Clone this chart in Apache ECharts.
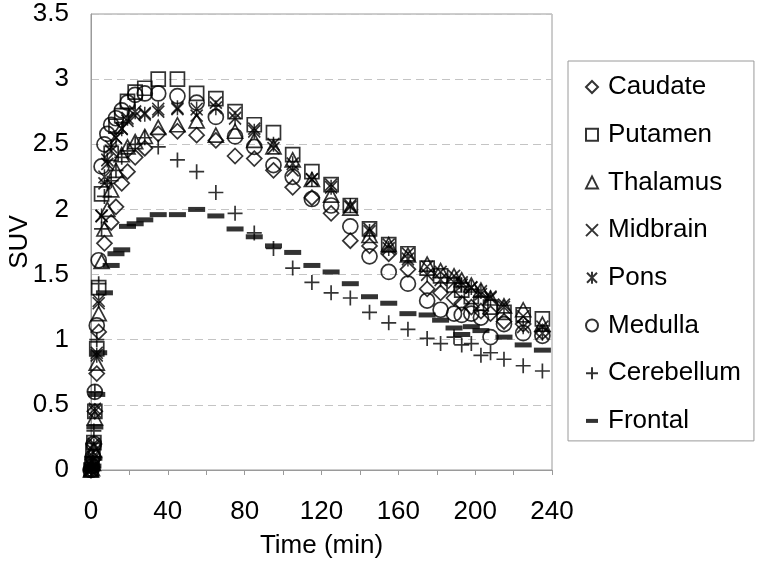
<!DOCTYPE html>
<html>
<head>
<meta charset="utf-8">
<script src="https://cdn.jsdelivr.net/npm/echarts@6/dist/echarts.min.js"></script>
<style>html,body{margin:0;padding:0;background:#fff}#c{width:758px;height:562px}</style>
</head>
<body>
<div id="c"></div>
<script>
var times = [0, 0.5, 1, 1.5, 2, 3, 4, 5.5, 7, 8.5, 10.5, 13, 16, 19, 23, 28, 35, 45, 55, 65, 75, 85, 95, 105, 115, 125, 135, 145, 155, 165, 175, 182, 189, 193, 198, 203, 208, 215, 225, 235];
var caudate = [0, 0.02, 0.08, 0.2, 0.45, 0.74, 1.06, null, 1.74, null, 1.90, 2.02, 2.20, 2.29, 2.40, 2.47, 2.58, 2.60, 2.57, 2.53, 2.41, 2.39, 2.30, 2.17, 2.09, 1.97, 1.76, 1.72, 1.66, 1.54, 1.39, 1.36, 1.32, 1.28, 1.25, 1.22, 1.20, 1.14, 1.12, 1.06];
var putamen = [0, 0.05, 0.15, 0.21, 0.45, 0.93, 1.40, 2.12, null, null, 2.43, 2.64, 2.72, 2.83, 2.90, 2.93, 3.00, 3.00, 2.89, 2.85, 2.75, 2.65, 2.59, 2.42, 2.29, 2.19, 2.03, 1.85, 1.73, 1.66, 1.55, 1.49, 1.42, 1.38, 1.33, 1.28, 1.25, 1.21, 1.19, 1.16];
var thalamus = [0, 0.01, 0.05, 0.15, 0.40, 0.82, 1.20, 1.60, 1.85, 2.00, 2.15, 2.30, 2.42, 2.48, 2.52, 2.56, 2.63, 2.65, 2.68, 2.57, 2.60, 2.53, 2.48, 2.38, 2.23, 2.11, 2.01, 1.80, 1.73, 1.65, 1.58, 1.53, 1.49, 1.46, 1.42, 1.38, 1.32, 1.26, 1.23, 1.12];
var midbrain = [0, 0.02, 0.10, 0.20, 0.47, 0.90, 1.28, 1.95, 2.20, 2.35, 2.45, 2.55, 2.62, 2.68, 2.72, 2.74, 2.75, 2.77, 2.72, 2.82, 2.74, 2.62, 2.47, 2.30, 2.23, 2.19, 2.02, 1.85, 1.73, 1.66, 1.56, 1.52, 1.49, 1.44, 1.40, 1.35, 1.33, 1.27, 1.18, 1.10];
var pons = [0, 0.02, 0.08, 0.18, 0.45, 0.88, 1.30, 1.95, 2.25, 2.38, 2.48, 2.55, 2.62, 2.70, 2.75, 2.73, 2.77, 2.78, 2.77, 2.78, 2.70, 2.60, 2.50, 2.35, 2.23, 2.17, 2.03, 1.83, 1.70, 1.62, 1.50, 1.46, 1.44, 1.42, 1.40, 1.37, 1.32, 1.25, 1.10, 1.05];
var medulla = [0, 0.03, 0.10, 0.20, 0.60, 1.11, 1.61, 2.33, 2.50, 2.58, 2.65, 2.70, 2.76, 2.82, 2.88, 2.89, 2.89, 2.87, 2.82, 2.71, 2.56, 2.48, 2.34, 2.25, 2.08, 2.03, 1.87, 1.64, 1.52, 1.43, 1.30, 1.23, 1.20, 1.19, 1.20, 1.17, 1.02, 1.12, 1.05, 1.03];
var cerebellum = [0, 0.03, 0.10, 0.30, 0.60, 1.00, 1.43, 1.85, 2.10, 2.20, 2.22, 2.30, 2.40, 2.45, 2.50, 2.55, 2.48, 2.38, 2.29, 2.13, 1.97, 1.82, 1.70, 1.55, 1.44, 1.36, 1.32, 1.21, 1.13, 1.08, 1.01, 0.97, 1.02, 0.96, 0.97, 0.88, 0.90, 0.85, 0.80, 0.76];
var frontal = [0, 0.01, 0.03, 0.09, 0.33, 0.58, 0.90, null, 1.36, null, 1.57, 1.66, 1.69, 1.87, 1.89, 1.92, 1.96, 1.96, 2.00, 1.95, 1.85, 1.79, 1.72, 1.67, 1.57, 1.52, 1.43, 1.33, 1.28, 1.20, 1.19, 1.15, 1.09, 1.04, 1.10, 1.07, null, 1.02, 0.96, 0.92];
var seriesNames = ['Caudate', 'Putamen', 'Thalamus', 'Midbrain', 'Pons', 'Medulla', 'Cerebellum', 'Frontal'];
var xTicks = [0, 40, 80, 120, 160, 200, 240];

var values = [caudate, putamen, thalamus, midbrain, pons, medulla, cerebellum, frontal];
var symbols = ['diamond', 'rect', 'triangle', 'path://M0,0L10,10M10,0L0,10', 'path://M0,1L10,11M10,1L0,11M5,0L5,12', 'circle', 'path://M5,0L5,10M0,5L10,5', 'rect'];
var sizes = [15, 14, [15, 14], 12, [12, 15], 15, 15, [17, 5]];
var font = '"Liberation Sans", Arial, sans-serif';

function pairs(v) {
  var out = [];
  for (var i = 0; i < times.length; i++) if (v[i] !== null) out.push([times[i], v[i]]);
  return out;
}

var series = seriesNames.map(function (name, k) {
  var filled = (k === 7);
  return {
    name: name,
    type: 'scatter',
    data: pairs(values[k]),
    symbol: symbols[k],
    symbolSize: sizes[k],
    itemStyle: filled ? { color: '#000', borderWidth: 0 } :
      { color: 'rgba(0,0,0,0)', borderColor: '#000', borderWidth: 1.7 },
    emphasis: { disabled: true },
    silent: true
  };
});

var legendIcons = ['diamond', 'rect', 'triangle', symbols[3], symbols[4], 'circle', symbols[6], 'path://M0,0L12,0L12,4L0,4Z'];

var chart = echarts.init(document.getElementById('c'), null, { renderer: 'canvas' });
chart.setOption({
  animation: false,
  backgroundColor: '#fff',
  textStyle: { fontFamily: font },
  grid: { left: 91, right: 206, top: 14, bottom: 92, show: true, borderColor: '#9a9a9a', borderWidth: 1,
    containLabel: false, outerBoundsMode: 'none' },
  xAxis: {
    type: 'value', min: 0, max: 240, interval: 40,
    name: 'Time (min)', nameLocation: 'middle', nameGap: 63, nameMoveOverlap: false,
    nameTextStyle: { fontSize: 26, color: '#000', fontFamily: font },
    axisLine: { show: true, lineStyle: { color: '#9a9a9a', width: 1 } },
    axisTick: { show: true, inside: false, length: 5, lineStyle: { color: '#9a9a9a' } },
    minorTick: { show: true, splitNumber: 2, length: 5, lineStyle: { color: '#9a9a9a' } },
    splitLine: { show: false },
    axisLabel: { fontSize: 26, color: '#000', margin: 29, fontFamily: font,
      formatter: function (v) { return xTicks.indexOf(v) >= 0 ? String(v) : ''; } }
  },
  yAxis: {
    type: 'value', min: 0, max: 3.5, interval: 0.5,
    name: 'SUV', nameLocation: 'middle', nameGap: 58, nameMoveOverlap: false,
    nameTextStyle: { fontSize: 26, color: '#000', fontFamily: font },
    axisLine: { show: true, lineStyle: { color: '#9a9a9a', width: 1 } },
    axisTick: { show: false },
    splitLine: { show: true, lineStyle: { color: '#c4c4c4', type: [8, 5], width: 1 } },
    axisLabel: { fontSize: 26, color: '#000', margin: 22, fontFamily: font }
  },
  legend: {
    orient: 'vertical', left: 568, top: 61,
    padding: [13, 13, 7, 17],
    itemGap: 21.7, itemWidth: 12, itemHeight: 12,
    borderColor: '#9a9a9a', borderWidth: 1,
    textStyle: { fontSize: 26, color: '#000', fontFamily: font, padding: [0, 0, 0, 5] },
    data: seriesNames.map(function (n, k) { return { name: n, icon: legendIcons[k] }; })
  },
  series: series
});
</script>
</body>
</html>
